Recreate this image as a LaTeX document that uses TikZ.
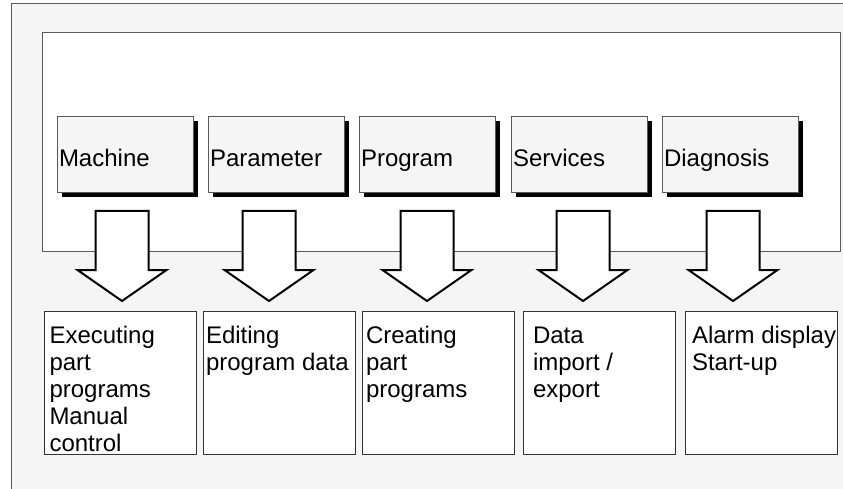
\documentclass[tikz,border=0pt]{standalone}
\usepackage{fontspec}
\setmainfont{Liberation Sans}
\usetikzlibrary{calc,shadows}
\definecolor{panelgray}{RGB}{245,245,245}
\definecolor{framegray}{RGB}{90,90,90}
\tikzset{
  % soft key with drop shadow
  keybox/.style={rectangle, draw=framegray, fill=panelgray, minimum width=136pt, minimum height=76pt,
                 inner sep=0pt, drop shadow={shadow xshift=5pt, shadow yshift=-5pt, fill=black, opacity=1}},
  keylabel/.style={anchor=base west, inner sep=0pt, font=\fontsize{24}{27}\selectfont},
  % function area box
  areabox/.style={rectangle, draw=black!80, fill=white, minimum width=152pt, minimum height=143pt, inner sep=0pt},
  % base is the last line here
  arealabel/.style={anchor=base west, inner sep=0pt, align=left, font=\fontsize{24}{27}\selectfont},
  % hollow block arrow
  blockarrow/.style={draw=black, line width=2pt, fill=white, line join=miter},
}
\begin{document}
\begin{tikzpicture}[x=1pt,y=1pt]
  \useasboundingbox (0,0) rectangle (843,488);
  % outer frame and screen
  \draw[framegray, fill=panelgray] (11,485) rectangle (870,-20);
  \node[rectangle, draw=framegray, fill=white, minimum width=798pt, minimum height=219pt, inner sep=0pt]
    (screen) at (441,346.5) {};
  % soft keys
  \foreach \n/\x/\t in {mach/125/Machine, par/276/Parameter, prog/427/Program, serv/579/Services, diag/730/Diagnosis} {
    \node[keybox] (\n) at (\x,334) {};
    \node[keylabel] (\n-txt) at ($(\n.west)+(2,-13)$) {\t};
  }
  % function areas
  \node[areabox] (exec) at (120,105.5) {};
  \node[areabox] (edit) at (279,105.5) {};
  \node[areabox] (create) at (438,105.5) {};
  \node[areabox] (data) at (599,105.5) {};
  \node[areabox] (alarm) at (761,105.5) {};
  \node[arealabel] (exec-txt) at ($(exec.north west)+(5.5,-141)$) {Executing\\part\\programs\\Manual\\control};
  \node[arealabel] (edit-txt) at ($(edit.north west)+(3,-60)$) {Editing\\program data};
  \node[arealabel] (create-txt) at ($(create.north west)+(4,-87)$) {Creating\\part\\programs};
  \node[arealabel] (data-txt) at ($(data.north west)+(10,-87)$) {Data\\import /\\export};
  \node[arealabel] (alarm-txt) at ($(alarm.north west)+(7,-60)$) {Alarm display\\Start-up};
  % arrows from keys to areas
  \foreach \n/\x in {mach/122, par/269, prog/427, serv/583, diag/733} {
    \coordinate (\n-tip) at (\x,187);
    \draw[blockarrow] (\n-tip) -- ++(-44.5,31) -- ++(18,0) -- ++(0,59) -- ++(53,0)
      -- ++(0,-59) -- ++(18,0) -- cycle;
  }
\end{tikzpicture}
\end{document}
